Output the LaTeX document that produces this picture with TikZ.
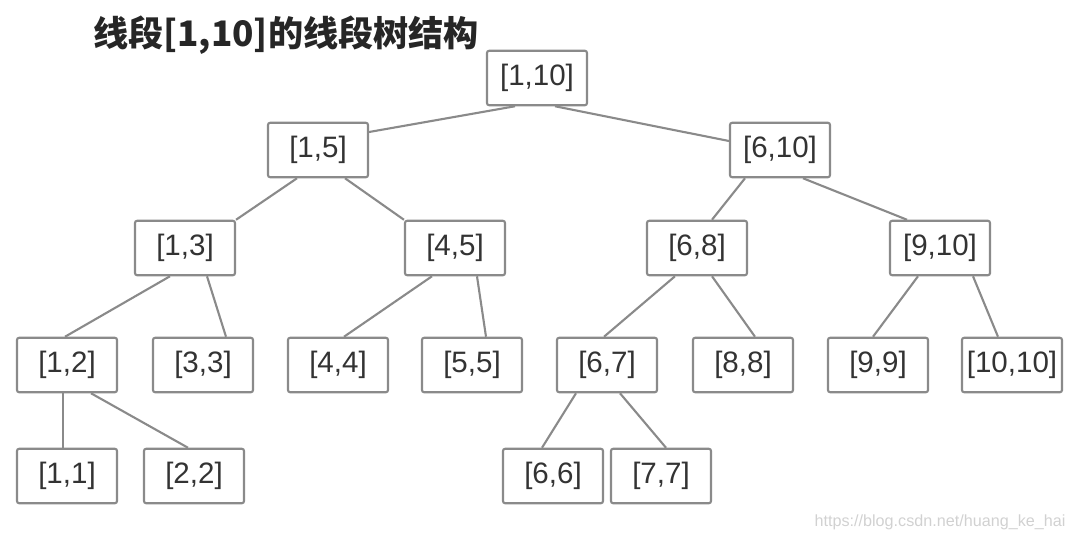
\documentclass[tikz,border=0pt]{standalone}
\usepackage{fontspec}
\setmainfont{Liberation Sans}
\newfontfamily\cjk{Noto Sans CJK SC}
\usepackage{tikz}
\usetikzlibrary{positioning,calc}

\definecolor{boxgray}{HTML}{8A8A8A}
\definecolor{txtgray}{HTML}{333333}

\begin{document}
\begin{tikzpicture}[x=0.025cm, y=-0.025cm,
    seg/.style={%
      rectangle, draw=boxgray, line width=1.5pt, rounded corners=1.5pt, fill=white,
      minimum width=2.5cm, minimum height=1.36cm, inner sep=0pt, align=center,
      text=txtgray, font=\fontsize{21}{25}\selectfont
    },
    link/.style={draw=boxgray, line width=1.5pt}
]
    \useasboundingbox (0,0) rectangle (1072,539);

    \node[font=\cjk\bfseries\fontsize{25}{30}\selectfont, text=black!85] (title) at (286,35) {线段[1,10]的线段树结构};

    \node[seg] (1)  at (537,78)  {[1,10]};
    \node[seg] (2)  at (318,150) {[1,5]};
    \node[seg] (3)  at (780,150) {[6,10]};
    \node[seg] (4)  at (185,248) {[1,3]};
    \node[seg] (5)  at (455,248) {[4,5]};
    \node[seg] (6)  at (697,248) {[6,8]};
    \node[seg] (7)  at (940,248) {[9,10]};
    \node[seg] (8)  at (67,365)  {[1,2]};
    \node[seg] (9)  at (203,365) {[3,3]};
    \node[seg] (10) at (338,365) {[4,4]};
    \node[seg] (11) at (472,365) {[5,5]};
    \node[seg] (12) at (607,365) {[6,7]};
    \node[seg] (13) at (743,365) {[8,8]};
    \node[seg] (14) at (878,365) {[9,9]};
    \node[seg] (15) at (1012,365) {[10,10]};
    \node[seg] (16) at (67,476)  {[1,1]};
    \node[seg] (17) at (194,476) {[2,2]};
    \node[seg] (24) at (553,476) {[6,6]};
    \node[seg] (25) at (661,476) {[7,7]};

    % edges
    \draw[link] ($(1.south)+(-22,0)$) -- ($(2.east)+(0,-18)$);
    \draw[link] ($(1.south)+(18,0)$)  -- ($(3.west)+(0,-9)$);
    \draw[link] ($(2.south)+(-21,0)$) -- (4.north east);
    \draw[link] ($(2.south)+(27,0)$)  -- (5.north west);
    \draw[link] ($(3.south)+(-35,0)$) -- ($(6.north)+(15,0)$);
    \draw[link] ($(3.south)+(23,0)$)  -- ($(7.north)+(-33,0)$);
    \draw[link] ($(4.south)+(-15,0)$) -- ($(8.north)+(-2,0)$);
    \draw[link] ($(4.south)+(22,0)$)  -- ($(9.north)+(23,0)$);
    \draw[link] ($(5.south)+(-23,0)$) -- ($(10.north)+(6,0)$);
    \draw[link] ($(5.south)+(22,0)$)  -- ($(11.north)+(14,0)$);
    \draw[link] ($(6.south)+(-22,0)$) -- ($(12.north)+(-3,0)$);
    \draw[link] ($(6.south)+(15,0)$)  -- ($(13.north)+(12,0)$);
    \draw[link] ($(7.south)+(-22,0)$) -- ($(14.north)+(-5,0)$);
    \draw[link] ($(7.south)+(33,0)$)  -- ($(15.north)+(-14,0)$);
    \draw[link] ($(8.south)+(-4,0)$)  -- ($(16.north)+(-4,0)$);
    \draw[link] ($(8.south)+(24,0)$)  -- ($(17.north)+(-6,0)$);
    \draw[link] ($(12.south)+(-31,0)$) -- ($(24.north)+(-11,0)$);
    \draw[link] ($(12.south)+(13,0)$)  -- ($(25.north)+(5,0)$);

    \node[text=black!18, font=\fontsize{11.5}{14}\selectfont] (mark) at (940,522) {https://blog.csdn.net/huang\_ke\_hai};
\end{tikzpicture}
\end{document}
